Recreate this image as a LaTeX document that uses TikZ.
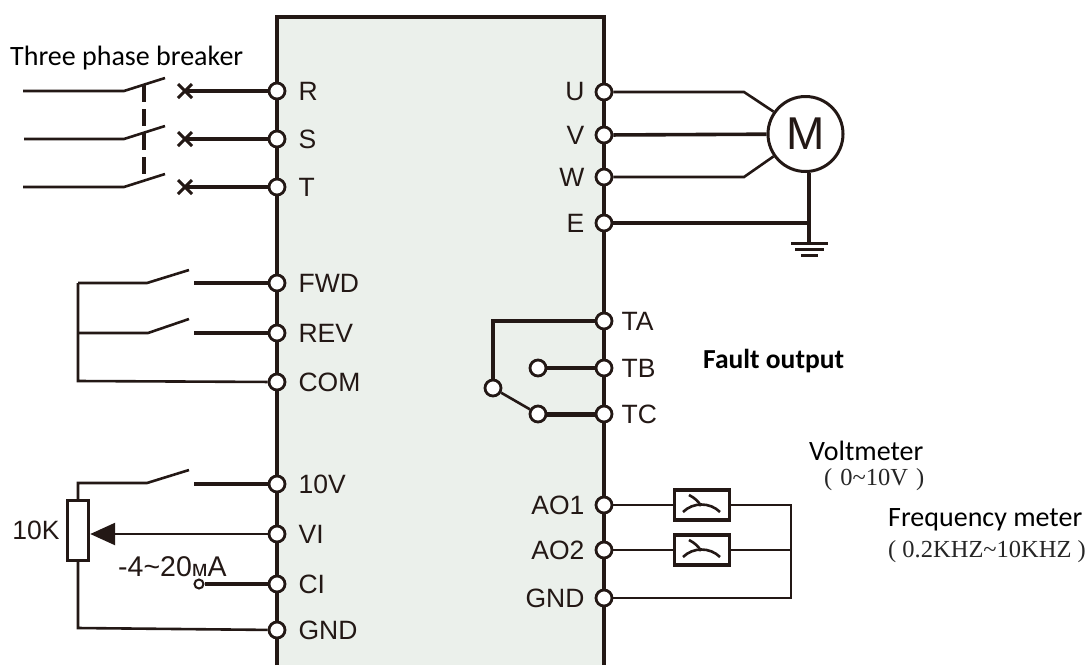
\documentclass[tikz,border=0pt]{standalone}
\usepackage{fontspec}
\setmainfont{Liberation Sans}
\newfontfamily\caliberfont{Carlito}
\newfontfamily\serfont{Liberation Serif}
\usepackage{tikz}
\usetikzlibrary{arrows.meta,positioning,calc,shapes.misc}
\definecolor{boxfill}{HTML}{EBF0EB}
\definecolor{wirecol}{HTML}{231815}
\newcommand{\meterglyph}[1]{
  \draw[thinwire] ([xshift=-19pt,yshift=-7pt]#1.center) .. controls ([xshift=-9pt,yshift=3pt]#1.center) and ([xshift=8pt,yshift=3pt]#1.center) .. ([xshift=18pt,yshift=-7pt]#1.center);
  \draw[thinwire] ([xshift=-13pt,yshift=10pt]#1.center) .. controls ([xshift=-7pt,yshift=7pt]#1.center) and ([xshift=-3pt,yshift=3pt]#1.center) .. ([xshift=-1pt,yshift=-1pt]#1.center);
}
\begin{document}
\begin{tikzpicture}[
x=1pt,y=-1pt,
termnode/.style={circle, draw=wirecol, line width=2.8pt, fill=white, minimum size=16pt, inner sep=0pt},
tinynode/.style={circle, draw=wirecol, line width=2pt, fill=white, minimum size=9pt, inner sep=0pt},
crossnode/.style={cross out, draw=wirecol, line width=3pt, minimum size=11pt, inner sep=0pt},
lbl/.style={text=wirecol, inner sep=0pt, font=\fontsize{26.5}{26.5}\selectfont},
notelbl/.style={text=black, inner sep=0pt, font=\caliberfont\fontsize{28}{28}\selectfont},
rangelbl/.style={text=black!85, inner sep=0pt, font=\serfont\fontsize{24.5}{24.5}\selectfont},
meternode/.style={rectangle, draw=wirecol, line width=3.2pt, fill=white, minimum width=55pt, minimum height=30pt, inner sep=0pt},
thinwire/.style={draw=wirecol, line width=2.6pt},
midwire/.style={draw=wirecol, line width=3.6pt},
thickwire/.style={draw=wirecol, line width=4.2pt},
]
\useasboundingbox (0,0) rectangle (1091,665);
%Box
\coordinate (boxBL) at (277,665);
\coordinate (boxTL) at (277,17);
\coordinate (boxTR) at (604,17);
\coordinate (boxBR) at (604,665);
\fill[boxfill] (boxBL) -- (boxTL) -- (boxTR) -- (boxBR) -- cycle;
\draw[thickwire, line width=4pt, line join=miter] (boxBL) -- (boxTL) -- (boxTR) -- (boxBR);

%Left terminals
\node[termnode](R) at (277,91){};
\node[termnode](S) at (277,139){};
\node[termnode](T) at (277,187){};
\node[termnode](FWD) at (277,283){};
\node[termnode](REV) at (277,333){};
\node[termnode](COM) at (277,382){};
\node[termnode](tenV) at (277,484){};
\node[termnode](VI) at (277,534){};
\node[termnode](CI) at (277,584){};
\node[termnode](GNDa) at (277,630){};
%Right terminals
\node[termnode](U) at (604,92){};
\node[termnode](V) at (604,135){};
\node[termnode](W) at (604,177){};
\node[termnode](E) at (604,223){};
\node[termnode](TA) at (604,321){};
\node[termnode](TB) at (604,368){};
\node[termnode](TC) at (604,414){};
\node[termnode](AOa) at (604,505){};
\node[termnode](AOb) at (604,550){};
\node[termnode](GNDb) at (604,598){};

%Labels
\node[lbl,right=12pt of R](Rlbl){R};
\node[lbl,right=12pt of S](Slbl){S};
\node[lbl,right=12pt of T](Tlbl){T};
\node[lbl,right=12pt of FWD](FWDlbl){FWD};
\node[lbl,right=12pt of REV](REVlbl){REV};
\node[lbl,right=12pt of COM](COMlbl){COM};
\node[lbl,right=12pt of tenV](tenVlbl){10V};
\node[lbl,right=12pt of VI](VIlbl){VI};
\node[lbl,right=12pt of CI](CIlbl){CI};
\node[lbl,right=12pt of GNDa](GNDalbl){GND};
\node[lbl,left=10pt of U](Ulbl){U};
\node[lbl,left=10pt of V](Vlbl){V};
\node[lbl,left=10pt of W](Wlbl){W};
\node[lbl,left=10pt of E](Elbl){E};
\node[lbl,right=8pt of TA](TAlbl){TA};
\node[lbl,right=8pt of TB](TBlbl){TB};
\node[lbl,right=8pt of TC](TClbl){TC};
\node[lbl,left=10pt of AOa](AOalbl){AO1};
\node[lbl,left=10pt of AOb](AOblbl){AO2};
\node[lbl,left=10pt of GNDb](GNDblbl){GND};

%Breaker
\node[notelbl,anchor=west](brklbl) at (10,58){Three phase breaker};
\node[crossnode](xR) at (185,91){};
\node[crossnode](xS) at (185,139){};
\node[crossnode](xT) at (185,187){};
\coordinate (inR) at (23,91);
\coordinate (inS) at (24,139);
\coordinate (inT) at (23,187);
\coordinate (hingeR) at (124,91);
\coordinate (hingeS) at (124,139);
\coordinate (hingeT) at (124,187);
\coordinate (tipR) at (165,78);
\coordinate (tipS) at (165,126);
\coordinate (tipT) at (165,174);
\coordinate (linkTop) at (144,85);
\coordinate (linkBot) at (144,180);
\draw[thinwire] (inR) -- (hingeR) -- (tipR);
\draw[thinwire] (inS) -- (hingeS) -- (tipS);
\draw[thinwire] (inT) -- (hingeT) -- (tipT);
\draw[midwire, dash pattern=on 17pt off 7pt] (linkTop) -- (linkBot);
\draw[midwire] (R) -- (xR.center);
\draw[midwire] (S) -- (xS.center);
\draw[midwire] (T) -- (xT.center);

%Switches
\coordinate (fwdA) at (78,283);
\coordinate (fwdB) at (147,283);
\coordinate (fwdC) at (189,270);
\coordinate (fwdD) at (194,283);
\coordinate (revA) at (78,333);
\coordinate (revB) at (148,333);
\coordinate (revC) at (189,319);
\coordinate (revD) at (194,333);
\coordinate (comA) at (78,381);
\draw[thinwire] (fwdA) -- (fwdB) -- (fwdC);
\draw[thinwire] (revA) -- (revB) -- (revC);
\draw[thinwire, line join=miter] (fwdA) -- (comA) -- (COM);
\draw[thickwire] (fwdD) -- (FWD);
\draw[thickwire] (revD) -- (REV);

%Potentiometer
\node[rectangle, draw=wirecol, line width=3.4pt, fill=white, minimum width=21pt, minimum height=60pt, inner sep=0pt](pot) at (78,530.5){};
\node[lbl,left=6pt of pot](potlbl){10K};
\coordinate (tenA) at (78,483);
\coordinate (tenB) at (147,483);
\coordinate (tenC) at (189,470);
\coordinate (tenD) at (194,484);
\coordinate (potGnd) at (78,628);
\draw[thinwire, line join=miter] (pot.north) -- (tenA) -- (tenB) -- (tenC);
\draw[thickwire] (tenD) -- (tenV);
\draw[thinwire, line join=miter] (pot.south) -- (potGnd) -- (GNDa);
\draw[thinwire, -{Triangle[length=25pt,width=22pt]}] (VI) -- (pot.east |- VI);
\node[tinynode](ciEnd) at (199,584){};
\draw[thickwire] (ciEnd) -- (CI);
\node[lbl,anchor=base west,font=\fontsize{28.5}{28.5}\selectfont](cilbl) at (118,576){-4\textasciitilde20\fontsize{23}{23}\selectfont м\fontsize{28.5}{28.5}\selectfont A};

%Motor
\node[circle, draw=wirecol, line width=3pt, fill=white, minimum size=75pt, inner sep=0pt, font=\fontsize{46}{46}\selectfont, text=wirecol](M) at (805.5,134){M};
\coordinate (bendU) at (744,92);
\coordinate (bendW) at (744,177);
\coordinate (gndTop) at (809,243);
\coordinate (gndJoin) at (809,223);
\coordinate (gndLa) at (791,243.5);
\coordinate (gndLb) at (828,243.5);
\coordinate (gndMa) at (795,249.5);
\coordinate (gndMb) at (824,249.5);
\coordinate (gndSa) at (801,255.5);
\coordinate (gndSb) at (818,255.5);
\draw[thinwire] (U) -- (bendU) -- (M.145);
\draw[midwire] (V) -- (M);
\draw[thinwire] (W) -- (bendW) -- (M.215);
\draw[midwire] (E) -- (gndJoin);
\draw[midwire] (M.south -| gndTop) -- (gndTop);
\draw[midwire, line width=3.4pt] (gndLa) -- (gndLb);
\draw[midwire, line width=3.4pt] (gndMa) -- (gndMb);
\draw[midwire, line width=3.4pt] (gndSa) -- (gndSb);

%Fault relay
\node[termnode](relayCom) at (493,388){};
\node[termnode](relayNC) at (538,368){};
\node[termnode](relayNO) at (538,414){};
\draw[midwire, line join=miter] (TA) -| (relayCom);
\draw[midwire] (relayNC) -- (TB);
\draw[thickwire, line width=5pt] (relayNO) -- (TC);
\draw[thinwire] (relayCom) -- (relayNO);
\node[notelbl,font=\caliberfont\bfseries\fontsize{27.5}{27.5}\selectfont,anchor=west](faultlbl) at (703,361){Fault output};

%Meters
\node[meternode](mtrA) at (702,505){};
\node[meternode](mtrB) at (702,550){};
\meterglyph{mtrA}
\meterglyph{mtrB}
\coordinate (busTop) at (791,505);
\coordinate (busMid) at (791,550);
\coordinate (busBot) at (791,598);
\draw[thinwire] (AOa) -- (mtrA);
\draw[thinwire] (AOb) -- (mtrB);
\draw[thinwire, line join=miter] (mtrA) -- (busTop) -- (busBot) -- (GNDb);
\draw[thinwire] (mtrB) -- (busMid);
\node[notelbl,anchor=west](voltlbl) at (809,451){Voltmeter};
\node[rangelbl,anchor=west](voltrng) at (824,480){(\hspace{8pt}0\textasciitilde10V\hspace{8pt})};
\node[notelbl,anchor=west](freqlbl) at (888,520){Frequency meter};
\node[rangelbl,anchor=west](freqrng) at (888,552){( 0.2KHZ\textasciitilde10KHZ )};
\end{tikzpicture}
\end{document}
